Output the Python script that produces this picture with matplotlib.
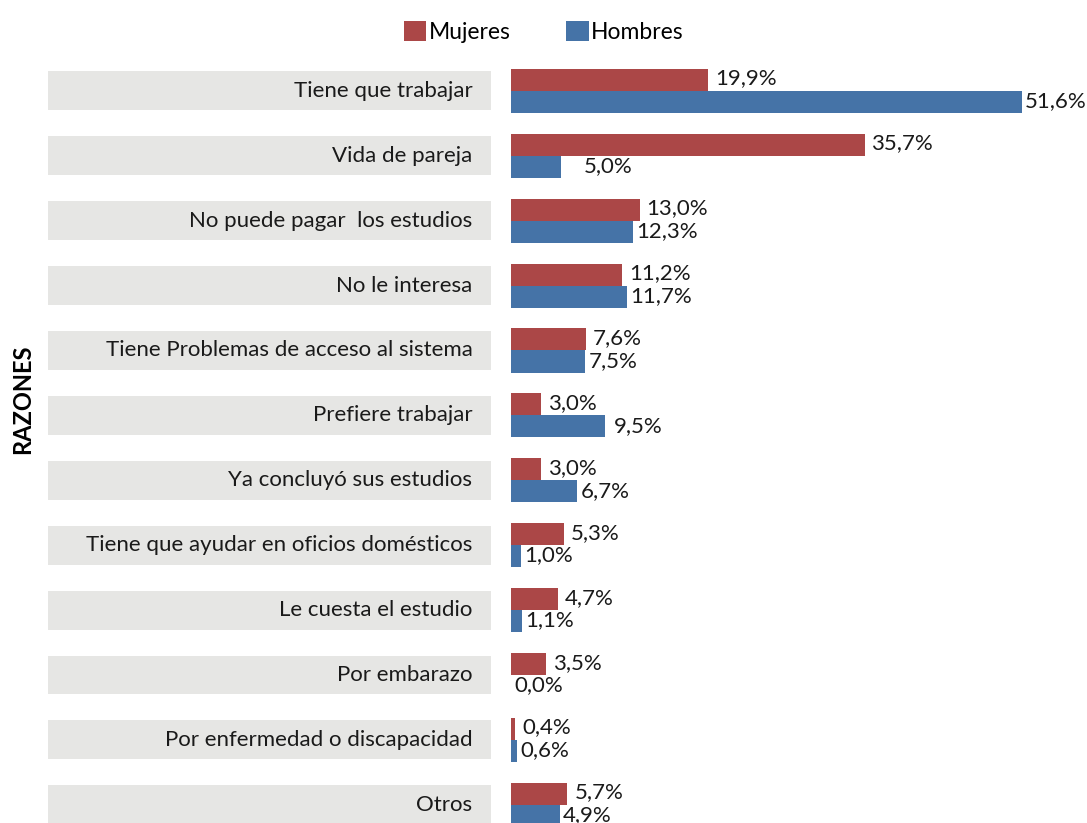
import matplotlib.pyplot as plt
import numpy as np

# ---------- datos ----------
razones = [
    "Tiene que trabajar",
    "Vida de pareja",
    "No puede pagar  los estudios",
    "No le interesa",
    "Tiene Problemas de acceso al sistema",
    "Prefiere trabajar",
    "Ya concluyó sus estudios",
    "Tiene que ayudar en oficios domésticos",
    "Le cuesta el estudio",
    "Por embarazo",
    "Por enfermedad o discapacidad",
    "Otros",
]
mujeres = [19.9, 35.7, 13.0, 11.2, 7.6, 3.0, 3.0, 5.3, 4.7, 3.5, 0.4, 5.7]
hombres = [51.6, 5.0, 12.3, 11.7, 7.5, 9.5, 6.7, 1.0, 1.1, 0.0, 0.6, 4.9]

ROJO = "#AB4747"
AZUL = "#4573A7"
GRIS = "#E6E6E4"

plt.rcParams["font.family"] = ["Lato", "DejaVu Sans"]
FS = 16

fig = plt.figure(figsize=(10.87, 8.23), dpi=100)
ax = fig.add_axes([0, 0, 1, 1])

y = np.arange(len(razones))
h = 0.34

# cajas grises de las etiquetas
ax.barh(y, 44.8, left=-46.8, height=0.6, color=GRIS, zorder=1)

ax.barh(y - h / 2, mujeres, height=h, color=ROJO, label="Mujeres", zorder=2)
ax.barh(y + h / 2, hombres, height=h, color=AZUL, label="Hombres", zorder=2)

for i, r in enumerate(razones):
    ax.text(-3.9, i, r, ha="right", va="center", fontsize=FS, color="#1a1a1a")

# etiquetas de valores (algunas un poco desplazadas como en el original)
extra_h = {1: 2.0, 5: 0.6}
for i, (m, v) in enumerate(zip(mujeres, hombres)):
    ax.text(m + 0.7, i - h / 2 - 0.02, f"{m:.1f}%".replace(".", ","),
            ha="left", va="center", fontsize=FS, color="#1a1a1a")
    ax.text(v + 0.3 + extra_h.get(i, 0), i + h / 2 - 0.01, f"{v:.1f}%".replace(".", ","),
            ha="left", va="center", fontsize=FS, color="#1a1a1a")

ax.set_xlim(-51.6, 58.16)
ax.set_ylim(11.28, -1.40)
ax.axis("off")

fig.text(0.021, 0.515, "RAZONES", rotation=90, ha="center", va="center",
         fontsize=17, fontweight="bold")

fig.legend(loc="upper center", bbox_to_anchor=(0.5, 1.0), ncol=2, frameon=False,
           fontsize=16.5, handlelength=1.0, handleheight=1.0, handletextpad=0.1,
           columnspacing=2.4)

plt.savefig("out.png", dpi=100)
